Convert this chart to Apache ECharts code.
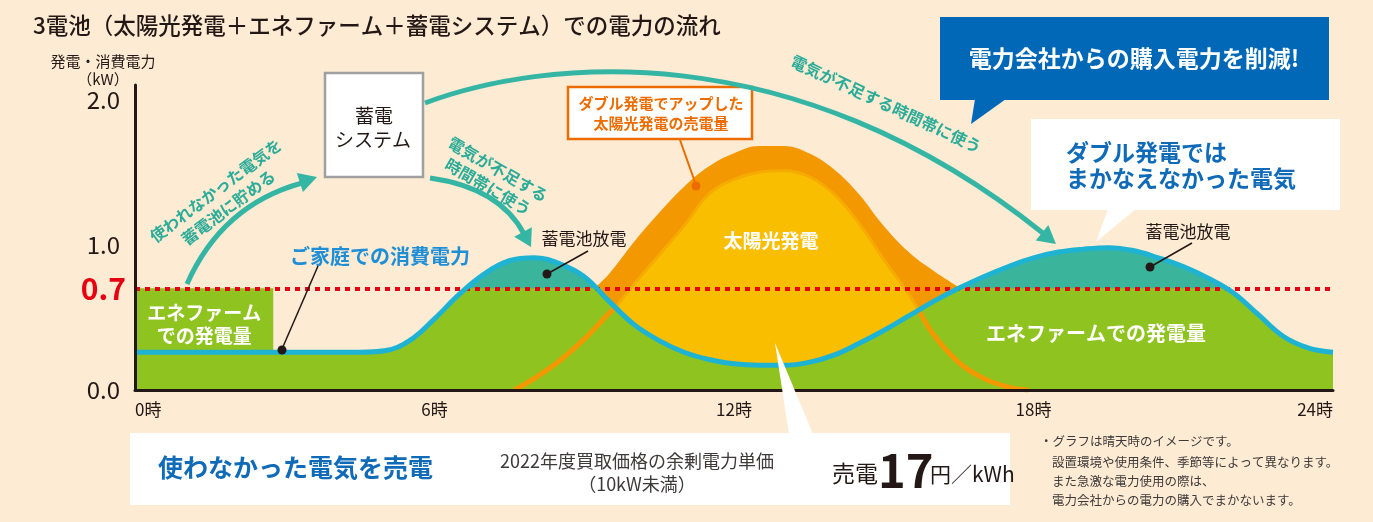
<!DOCTYPE html>
<html><head><meta charset="utf-8">
<script src="https://cdn.jsdelivr.net/npm/echarts@6/dist/echarts.min.js"></script>
<style>html,body{margin:0;padding:0;background:#fdebd4}#c{width:1373px;height:522px}</style>
</head><body><div id="c"></div>
<script>
const FONT = '"Noto Sans CJK JP", "Noto Sans", sans-serif';

// ---- data (kW by hour) ----
const consHours = [0,1,2,3,4,4.5,5,5.5,6,6.5,7,7.5,8,8.5,9,9.5,10,10.5,11,11.5,12,12.5,13,13.5,14,14.5,15,15.5,16,16.5,17,17.5,18,18.5,19,19.5,20,20.5,21,21.5,22,22.5,23,23.5,24];
const consKw    = [0.26,0.26,0.26,0.26,0.26,0.26,0.27,0.34,0.49,0.66,0.80,0.89,0.91,0.87,0.78,0.61,0.45,0.34,0.26,0.21,0.18,0.17,0.17,0.19,0.24,0.32,0.41,0.51,0.61,0.70,0.78,0.85,0.91,0.95,0.97,0.98,0.96,0.91,0.85,0.77,0.67,0.52,0.37,0.29,0.26];
const solarHours = [7.6,8,8.5,9,9.5,9.6,10,10.5,11,11.5,12,12.5,13,13.5,14,14.5,15,15.5,15.7,16,16.5,17,17.5,17.9];
const solarKw    = [0,0.08,0.20,0.35,0.53,0.56,0.73,0.93,1.13,1.35,1.45,1.50,1.51,1.47,1.35,1.15,0.90,0.66,0.55,0.38,0.19,0.08,0.02,0];
const doubleHours = [9.2,9.5,10,10.5,11,11.5,12,12.5,13,13.5,14,14.5,15,15.5,16,16.5];
const doubleKw    = [0.70,0.80,1.02,1.22,1.40,1.54,1.63,1.68,1.68,1.63,1.52,1.35,1.13,0.95,0.82,0.71];
const enefarmKw = 0.7;
const enefarmBoxHours = [0, 2.77];
const yTickLabels = ['0.0','1.0','2.0'];
const xTickSuffix = '時';

const pairs = (ts, vs) => ts.map((t, i) => [t, vs[i]]);
function interp(ts, vs, t) {
  for (let i = 0; i < ts.length - 1; i++) {
    if (t >= ts[i] && t <= ts[i + 1]) { const f = (t - ts[i]) / (ts[i + 1] - ts[i]); return vs[i] + f * (vs[i + 1] - vs[i]); }
  }
  return vs[vs.length - 1];
}
const solarBelow = solarHours.map((h, i) => solarKw[i] <= interp(consHours, consKw, h) + 0.02 ? [h, solarKw[i]] : [h, '-']);

const C_TEAL = '#3bb49c', C_GREEN = '#8fc31f', C_ORANGE = '#f39800', C_YELLOW = '#fabe00', C_BLUE = '#1fb3d3';
const C_ARROW = '#35b6a4', C_ARROWTXT = '#2aac98', C_DARK = '#231815';

// ---- annotation helpers ----
function txt(x, y, text, o) {
  o = o || {};
  return { type: 'text', x, y, z: 60, rotation: (o.rot || 0) * Math.PI / 180,
    style: { text, fill: o.color || C_DARK, fontSize: o.size || 14, fontWeight: o.weight || 'normal', fontFamily: FONT,
      align: o.align || 'center', verticalAlign: o.va || 'middle', lineHeight: o.lh || undefined } };
}
function rect(x, y, w, h, fill, stroke, lw) {
  return { type: 'rect', z: 50, shape: { x, y, width: w, height: h }, style: { fill, stroke: stroke || null, lineWidth: lw || 0 } };
}
function poly(points, fill) { return { type: 'polygon', z: 50, shape: { points }, style: { fill } }; }
function seg(x1, y1, x2, y2, color, lw) { return { type: 'line', z: 60, shape: { x1, y1, x2, y2 }, style: { stroke: color, lineWidth: lw } }; }
function dot(cx, cy, color, r) { return { type: 'circle', z: 61, shape: { cx, cy, r: r || 4.5 }, style: { fill: color } }; }
function curve(shape) { return { type: 'bezierCurve', z: 55, shape, style: { stroke: C_ARROW, lineWidth: 5, fill: null } }; }
function head(tx, ty, deg, L, W) {
  const a = deg * Math.PI / 180, c = Math.cos(a), s = Math.sin(a);
  const bx = tx - L * c, by = ty - L * s;
  return poly([[tx, ty], [bx - W * s, by + W * c], [bx + W * s, by - W * c]], C_ARROW);
}

const graphics = [
  txt(33, 25, '3電池（太陽光発電＋エネファーム＋蓄電システム）での電力の流れ', { size: 22.5, align: 'left', weight: 500 }),
  txt(103, 61, '発電・消費電力', { size: 15 }),
  txt(103, 79, '（kW）', { size: 15 }),

  // storage box
  rect(325, 73, 98, 104, '#ffffff', '#a0a0a0', 2.5),
  txt(374, 116, '蓄電', { size: 19 }),
  txt(373, 140, 'システム', { size: 19 }),

  // arrows
  curve({ x1: 187, y1: 284, cpx1: 222, cpy1: 205, x2: 302, y2: 183 }),
  head(317, 177, -18, 18, 10),
  curve({ x1: 425, y1: 103, cpx1: 540, cpy1: 60, cpx2: 790, cpy2: 30, x2: 1044, y2: 234 }),
  head(1056, 244, 39, 18, 10),
  curve({ x1: 430, y1: 178, cpx1: 500, cpy1: 188, x2: 524, y2: 234 }),
  head(531, 247, 62, 17, 10),
  txt(222, 199, '使われなかった電気を\n蓄電池に貯める', { size: 16, weight: 'bold', color: C_ARROWTXT, rot: 37, lh: 21 }),
  txt(493, 178, '電気が不足する\n時間帯に使う', { size: 16, weight: 'bold', color: C_ARROWTXT, rot: -30, lh: 20 }),
  txt(886, 104, '電気が不足する時間帯に使う', { size: 16, weight: 'bold', color: C_ARROWTXT, rot: -25 }),

  // consumption label + leader
  txt(380, 256, 'ご家庭での消費電力', { size: 20, weight: 'bold', color: '#1e8ed6' }),
  seg(318, 266, 282, 349, C_DARK, 1.5), dot(282, 350, C_DARK),

  // battery discharge labels
  txt(584, 239, '蓄電池放電', { size: 17 }),
  seg(588, 251, 547, 274, C_DARK, 1.5), dot(547, 274, C_DARK),
  txt(1188, 232, '蓄電池放電', { size: 17 }),
  seg(1192, 243, 1150, 267, C_DARK, 1.5), dot(1150, 267, C_DARK),

  // inside labels
  txt(771, 241, '太陽光発電', { size: 19, weight: 'bold', color: '#ffffff' }),
  txt(1096, 333, 'エネファームでの発電量', { size: 20, weight: 'bold', color: '#ffffff' }),

  // orange callout
  rect(568, 87, 184, 52, '#ffffff', '#ed6c00', 2.5),
  txt(661, 103, 'ダブル発電でアップした', { size: 15, weight: 'bold', color: '#ed6c00' }),
  txt(661, 123, '太陽光発電の売電量', { size: 15, weight: 'bold', color: '#ed6c00' }),
  seg(680, 140, 696, 185, '#ed6c00', 2), dot(696, 186, '#ed6c00'),

  // blue callout
  rect(940, 17, 389, 83, '#0068b7'),
  poly([[975, 99], [1006, 99], [971, 124]], '#0068b7'),
  txt(1134, 58, '電力会社からの購入電力を削減!', { size: 23, weight: 'bold', color: '#ffffff' }),

  // white callout
  rect(1031, 119, 309, 91, '#ffffff'),
  poly([[1108, 209], [1136, 209], [1096, 242]], '#ffffff'),
  txt(1066, 152, 'ダブル発電では', { size: 23, weight: 'bold', color: '#0f6ab8', align: 'left' }),
  txt(1066, 178, 'まかなえなかった電気', { size: 23, weight: 'bold', color: '#0f6ab8', align: 'left' }),

  // bottom box
  rect(130, 433, 880, 72, '#ffffff'),
  poly([[775, 343], [789, 434], [813, 434]], '#ffffff'),
  txt(158, 467, '使わなかった電気を売電', { size: 25, weight: 'bold', color: '#0f6ab8', align: 'left' }),
  txt(637, 461, '2022年度買取価格の余剰電力単価', { size: 18, color: '#3e3a39' }),
  txt(637, 484, '（10kW未満）', { size: 18, color: '#3e3a39' }),
  txt(832, 473, '売電', { size: 23, align: 'left' }),
  txt(878, 470, '17', { size: 47, weight: 'bold', align: 'left' }),
  txt(930, 474, '円／kWh', { size: 21, align: 'left' }),

  // notes
  txt(1040, 441, '・グラフは晴天時のイメージです。', { size: 12.5, align: 'left', color: '#3e3a39' }),
  txt(1052, 462, '設置環境や使用条件、季節等によって異なります。', { size: 12.5, align: 'left', color: '#3e3a39' }),
  txt(1052, 481, 'また急激な電力使用の際は、', { size: 12.5, align: 'left', color: '#3e3a39' }),
  txt(1052, 500, '電力会社からの電力の購入でまかないます。', { size: 12.5, align: 'left', color: '#3e3a39' })
];

const chart = echarts.init(document.getElementById('c'), null, { renderer: 'canvas' });
const GRID_TOP = 85, GRID_BOTTOM = 132, YMAX = 2.1;
const plotH = 522 - GRID_TOP - GRID_BOTTOM;
const grid2Top = 522 - GRID_BOTTOM - plotH * enefarmKw / YMAX;

chart.setOption({
  backgroundColor: '#fdebd4',
  animation: false,
  textStyle: { fontFamily: FONT },
  grid: [
    { left: 135, right: 40, top: GRID_TOP, bottom: GRID_BOTTOM },
    { left: 135, right: 40, top: grid2Top, bottom: GRID_BOTTOM }
  ],
  xAxis: [
    { type: 'value', gridIndex: 0, min: 0, max: 24, interval: 6, z: 10,
      axisLine: { lineStyle: { color: C_DARK, width: 3 } }, axisTick: { show: false }, splitLine: { show: false },
      axisLabel: { formatter: v => v + xTickSuffix, fontSize: 17, color: C_DARK, margin: 11, fontFamily: FONT,
        alignMinLabel: 'left', alignMaxLabel: 'right' } },
    { type: 'value', gridIndex: 1, min: 0, max: 24, show: false }
  ],
  yAxis: [
    { type: 'value', gridIndex: 0, min: 0, max: YMAX, interval: 1, z: 10,
      axisLine: { show: true, lineStyle: { color: C_DARK, width: 3 } }, axisTick: { show: false }, splitLine: { show: false },
      axisLabel: { showMaxLabel: false, fontSize: 24, color: C_DARK, margin: 15, fontFamily: FONT,
        formatter: v => (Math.abs(v - Math.round(v)) < 1e-9 && yTickLabels[Math.round(v)]) ? yTickLabels[Math.round(v)] : '' } },
    { type: 'value', gridIndex: 1, min: 0, max: enefarmKw, show: false }
  ],
  series: [
    { name: 'teal', type: 'line', xAxisIndex: 0, yAxisIndex: 0, z: 1, data: pairs(consHours, consKw), smooth: 0.4,
      symbol: 'none', lineStyle: { width: 0 }, areaStyle: { color: C_TEAL, opacity: 1 }, silent: true },
    { name: 'double', type: 'line', xAxisIndex: 0, yAxisIndex: 0, z: 2, data: pairs(doubleHours, doubleKw), smooth: 0.4,
      symbol: 'none', lineStyle: { width: 0 }, areaStyle: { color: C_ORANGE, opacity: 1 }, silent: true },
    { name: 'solar', type: 'line', xAxisIndex: 0, yAxisIndex: 0, z: 3, data: pairs(solarHours, solarKw), smooth: 0.4,
      symbol: 'none', lineStyle: { width: 3, color: '#f6ab00' }, areaStyle: { color: C_YELLOW, opacity: 1 }, silent: true },
    { name: 'enefarm', type: 'line', xAxisIndex: 1, yAxisIndex: 1, z: 4, data: pairs(consHours, consKw), smooth: 0.4, clip: true,
      symbol: 'none', lineStyle: { width: 0 }, areaStyle: { color: C_GREEN, opacity: 1 }, silent: true,
      markArea: { silent: true, itemStyle: { color: C_GREEN, opacity: 1 },
        label: { show: true, position: 'inside', color: '#fff', fontSize: 19, fontWeight: 'bold', lineHeight: 23, fontFamily: FONT,
          formatter: 'エネファーム\nでの発電量' },
        data: [[{ xAxis: enefarmBoxHours[0], yAxis: 0.2 }, { xAxis: enefarmBoxHours[1], yAxis: enefarmKw }]] } },
    { name: 'solarLine', type: 'line', xAxisIndex: 0, yAxisIndex: 0, z: 5, data: solarBelow, smooth: 0.4, connectNulls: false,
      symbol: 'none', lineStyle: { width: 5, color: C_ORANGE }, silent: true },
    { name: 'consumption', type: 'line', xAxisIndex: 0, yAxisIndex: 0, z: 6, data: pairs(consHours, consKw), smooth: 0.4,
      symbol: 'none', lineStyle: { width: 5, color: C_BLUE }, silent: true,
      markLine: { silent: true, symbol: ['none', 'none'], animation: false,
        lineStyle: { color: '#e60012', width: 4, type: [5, 5] },
        label: { show: true, position: 'start', formatter: String(enefarmKw), color: '#e60012', fontSize: 30, fontWeight: 'bold', distance: 9, fontFamily: FONT },
        emphasis: { disabled: true },
        data: [[{ coord: [0, enefarmKw] }, { coord: [24, enefarmKw] }]] } }
  ],
  graphic: graphics
});
</script></body></html>
